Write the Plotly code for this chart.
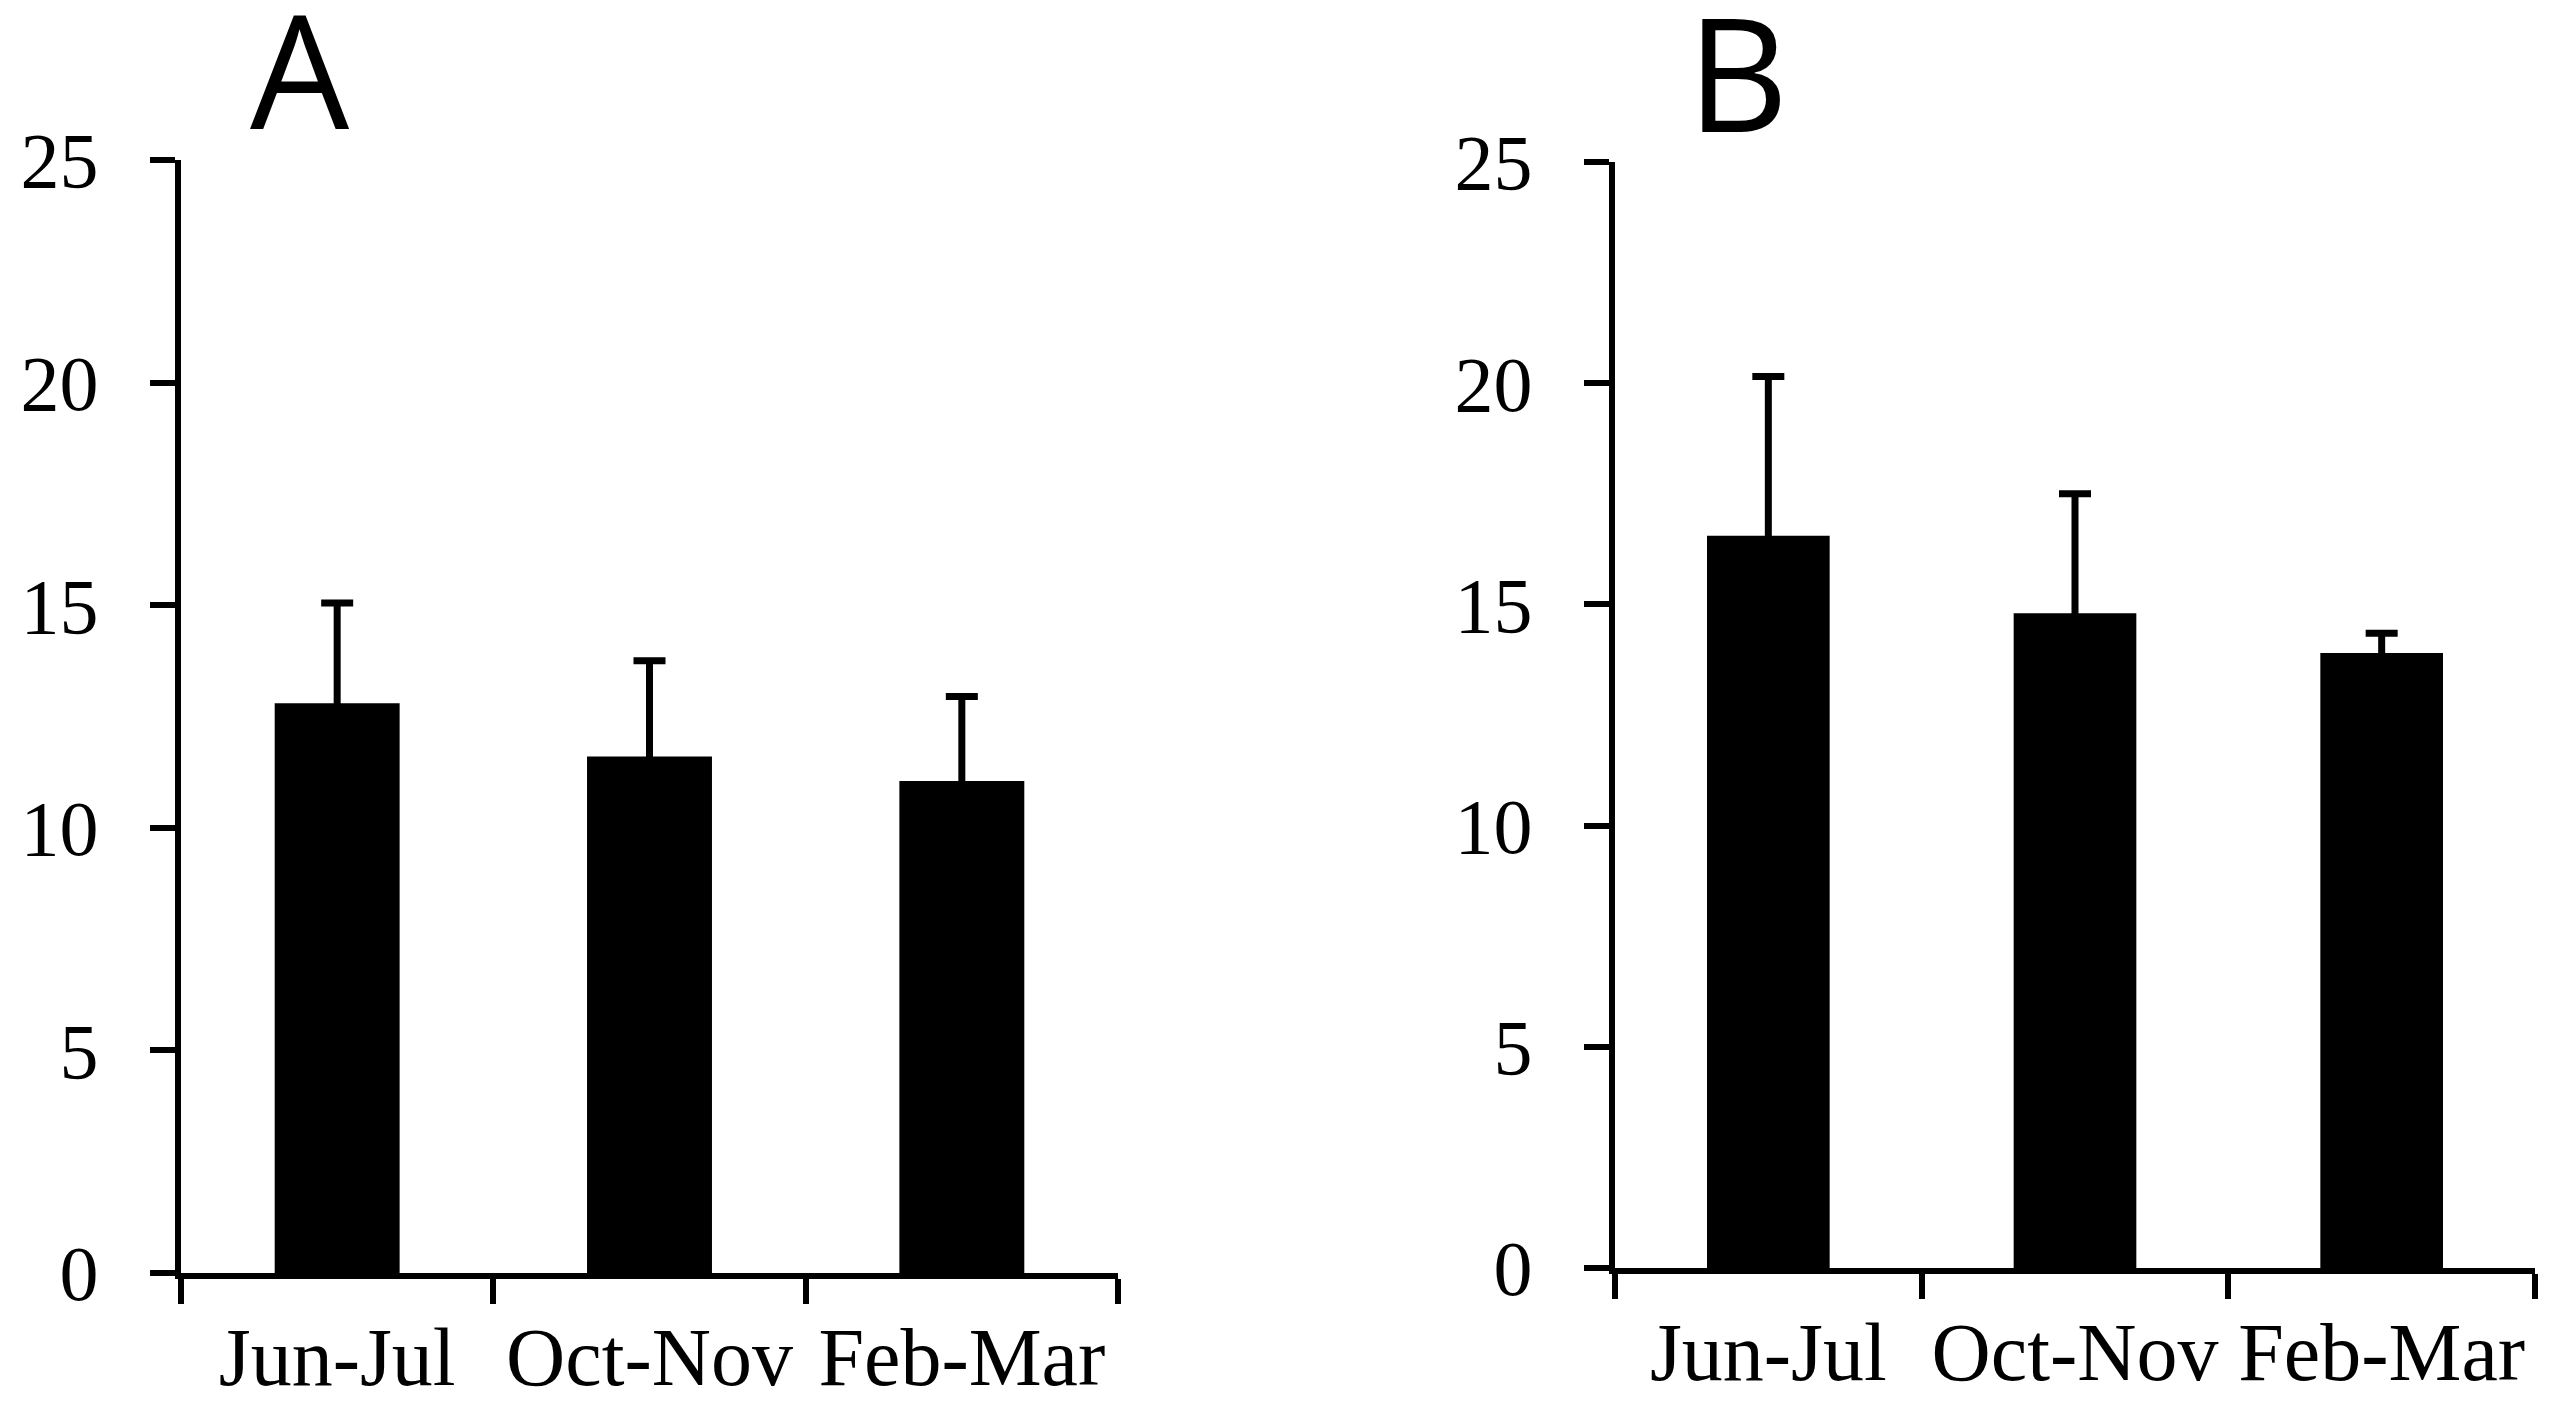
import plotly.graph_objects as go

categories = ["Jun-Jul", "Oct-Nov", "Feb-Mar"]
means_a = [12.8, 11.6, 11.05]
err_a = [2.25, 2.15, 1.9]
means_b = [16.55, 14.8, 13.9]
err_b = [3.6, 2.7, 0.45]
y_ticks = [0, 5, 10, 15, 20, 25]
panel_labels = ["A", "B"]

W, H = 2554, 1405
HIDDEN_MINUS = 0.3  # lower whisker kept inside the black bar (invisible)

def px_x(p):
    return p / W

def px_y(p):
    return 1 - p / H

fig = go.Figure()

for i, (m, e) in enumerate([(means_a, err_a), (means_b, err_b)]):
    sfx = "" if i == 0 else "2"
    fig.add_trace(go.Bar(
        x=categories, y=m, width=0.4,
        marker=dict(color="black", line=dict(width=0)),
        error_y=dict(type="data", symmetric=False, array=e,
                     arrayminus=[HIDDEN_MINUS] * len(e),
                     color="black", thickness=7, width=16),
        xaxis="x" + sfx, yaxis="y" + sfx, showlegend=False,
    ))

xcommon = dict(
    type="category", range=[-0.5, 2.5], showline=True, linecolor="black",
    linewidth=6, ticks="outside", tickson="boundaries", ticklen=25,
    tickwidth=6, tickcolor="black", showgrid=False, zeroline=False,
    tickfont=dict(family="Liberation Serif", size=82, color="black"),
    ticklabelstandoff=8, automargin=False, fixedrange=True,
)
ycommon = dict(
    range=[0, 25], tickvals=y_ticks, showline=True, linecolor="black",
    linewidth=6, ticks="outside", ticklen=25, tickwidth=6,
    tickcolor="black", showgrid=False, zeroline=False,
    tickfont=dict(family="Liberation Serif", size=78, color="black"),
    ticklabelstandoff=36, automargin=False, fixedrange=True,
)

fig.update_layout(
    width=W, height=H,
    margin=dict(l=0, r=0, t=0, b=0),
    paper_bgcolor="white", plot_bgcolor="white",
    xaxis=dict(xcommon, domain=[px_x(173), px_x(1110)], anchor="y"),
    yaxis=dict(ycommon, domain=[px_y(1265), px_y(152)], anchor="x"),
    xaxis2=dict(xcommon, domain=[px_x(1607), px_x(2527)], anchor="y2"),
    yaxis2=dict(ycommon, domain=[px_y(1260), px_y(154)], anchor="x2"),
    annotations=[
        dict(text=panel_labels[0], x=px_x(292), y=px_y(60), xref="paper", yref="paper",
             xanchor="center", yanchor="middle", showarrow=False,
             font=dict(family="Open Sans", size=157, color="black")),
        dict(text=panel_labels[1], x=px_x(1729), y=px_y(63), xref="paper", yref="paper",
             xanchor="center", yanchor="middle", showarrow=False,
             font=dict(family="Open Sans", size=157, color="black")),
    ],
)

fig.write_html("out.html")
